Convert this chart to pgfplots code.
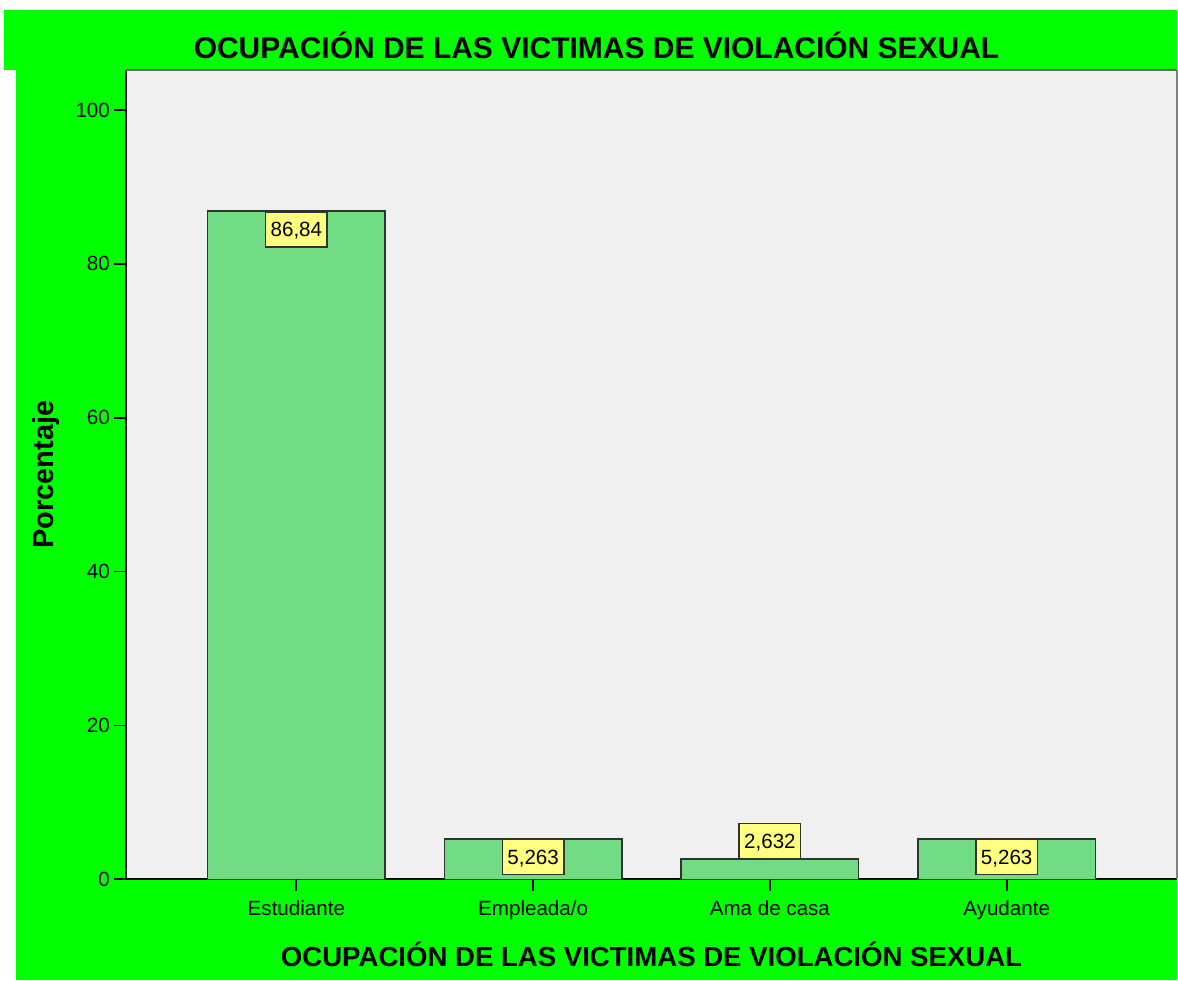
\documentclass[border=0pt]{standalone}
\usepackage{pgfplots}
\pgfplotsset{compat=1.18}
\usepackage{fontspec}
\setmainfont{Liberation Sans}
\definecolor{bggreen}{RGB}{0,255,0}
\definecolor{plotbg}{RGB}{240,240,240}
\definecolor{barfill}{RGB}{114,220,132}
\definecolor{baredge}{RGB}{50,50,50}
\definecolor{lblfill}{RGB}{255,255,128}
\begin{document}
\begin{tikzpicture}[x=0.5pt,y=0.5pt]
\fill[white] (0,0) rectangle (1178,981);
\fill[bggreen] (16,0) rectangle (1178,911);
\fill[bggreen] (4,911) rectangle (1178,971);
\begin{axis}[
  at={(63pt,50.5pt)}, anchor=south west,
  scale only axis, width=526pt, height=405pt,
  xmin=-0.72, xmax=3.72, ymin=0, ymax=105.2,
  axis background/.style={fill=plotbg},
  axis x line*=bottom, axis y line*=left,
  axis line style={black, line width=0.9pt},
  ytick={0,20,40,60,80,100},
  xtick={0,1,2,3},
  xticklabels={Estudiante,Empleada/o,Ama de casa,Ayudante},
  tick align=outside, major tick length=6pt,
  tick style={black, line width=0.9pt},
  /pgf/number format/assume math mode=true,
  tick label style={font=\fontsize{10.3}{12}\selectfont},
  yticklabel style={xshift=1.5pt},
  xticklabel style={yshift=-1pt},
  xlabel={OCUPACIÓN DE LAS VICTIMAS DE VIOLACIÓN SEXUAL},
  ylabel={Porcentaje},
  xlabel style={font=\fontsize{13.8}{16}\selectfont\bfseries, at={(rel axis cs:0.5,0)}, anchor=center, yshift=-37.5pt},
  ylabel style={font=\fontsize{14.5}{16}\selectfont\bfseries, at={(rel axis cs:0,0.5)}, anchor=center, rotate=0, yshift=40pt},
  ybar, bar width=0.75, bar shift=0pt,
  clip=false,
  nodes near coords,
  /pgf/number format/.cd, fixed, precision=3, use comma, assume math mode=true,
  /pgfplots/.cd,
  every node near coord/.append style={font=\fontsize{10.3}{12}\selectfont, fill=lblfill, draw=baredge, line width=0.7pt, inner xsep=2.5pt, inner ysep=0pt, minimum height=17.5pt, text depth=0pt},
]
\addplot[fill=barfill, draw=baredge, line width=0.8pt, nodes near coords style={anchor=north}] coordinates {(0,86.84) (1,5.263) (3,5.263)};
\addplot[fill=barfill, draw=baredge, line width=0.8pt, nodes near coords style={anchor=south}] coordinates {(2,2.632)};
\draw[gray, line width=0.8pt] (rel axis cs:1,0) -- (rel axis cs:1,1);
\draw[gray!80!black, line width=0.6pt] (rel axis cs:0,1) -- (rel axis cs:1,1);
\end{axis}
\node[font=\fontsize{15}{18}\selectfont\bfseries] at (597,936) {OCUPACIÓN DE LAS VICTIMAS DE VIOLACIÓN SEXUAL};
\end{tikzpicture}
\end{document}
